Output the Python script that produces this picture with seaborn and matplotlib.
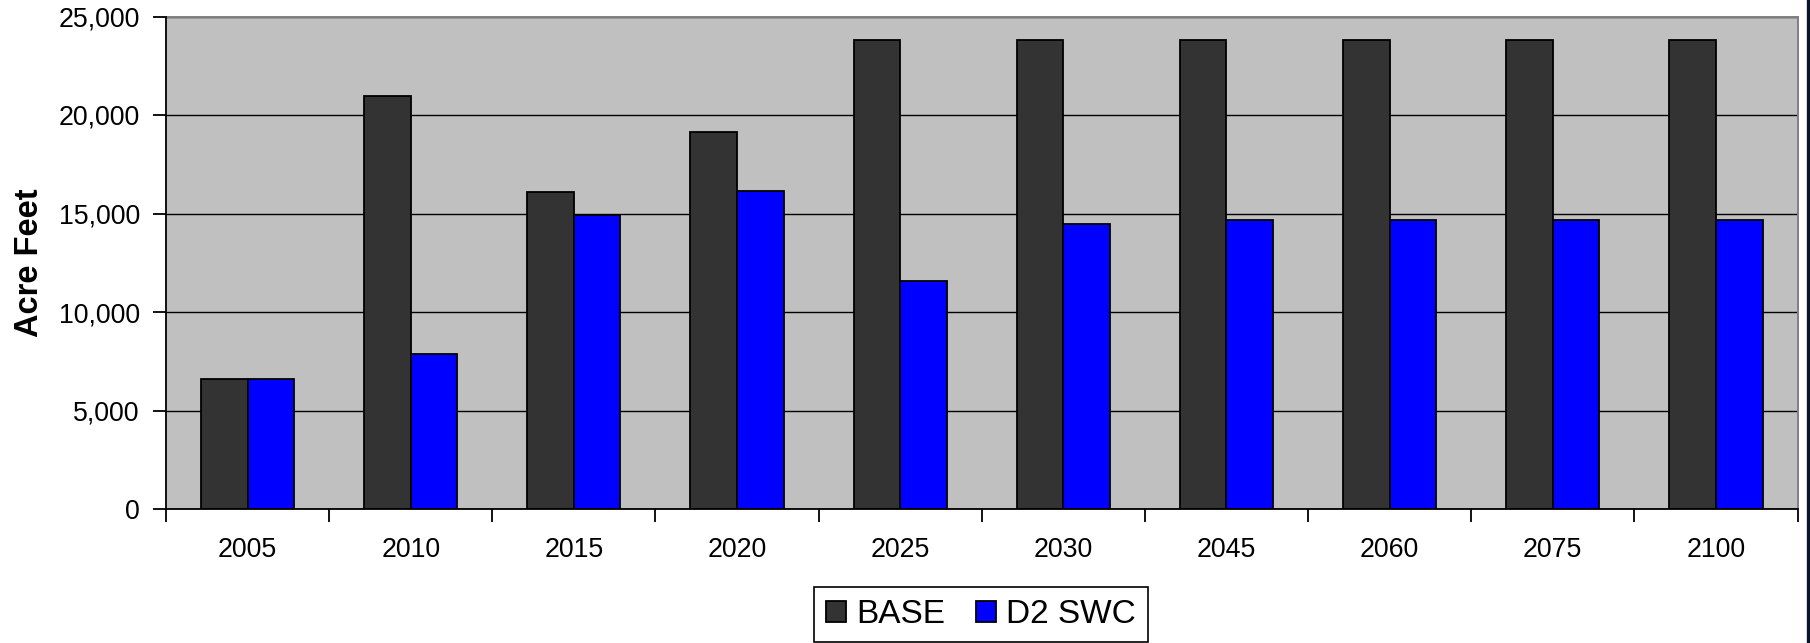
import matplotlib
matplotlib.use("Agg")
import matplotlib.pyplot as plt
from matplotlib.lines import Line2D
from matplotlib.ticker import FuncFormatter, FixedLocator
import numpy as np
import pandas as pd
import seaborn as sns

# Annual volumes (acre-feet) by planning year
years = ["2005", "2010", "2015", "2020", "2025", "2030", "2045", "2060", "2075", "2100"]
base = [6580, 20950, 16080, 19140, 23820, 23830, 23830, 23830, 23830, 23830]
d2_swc = [6580, 7870, 14900, 16160, 11590, 14450, 14670, 14670, 14670, 14670]
series_names = ["BASE", "D2 SWC"]
series_colors = ["#333333", "#0000FF"]

df = pd.DataFrame({
    "Year": years * 2,
    "Acre Feet": base + d2_swc,
    "Scenario": [series_names[0]] * len(years) + [series_names[1]] * len(years),
})

sns.set_theme(style="white")
plt.rcParams["font.family"] = ["Liberation Sans", "DejaVu Sans"]

W, H = 1810, 643
fig = plt.figure(figsize=(W / 100, H / 100), dpi=100)
ax_left, ax_right, ax_top, ax_bottom = 166, 1797.5, 16.5, 509
ax = fig.add_axes([ax_left / W, 1 - ax_bottom / H,
                   (ax_right - ax_left) / W, (ax_bottom - ax_top) / H])
ax.set_facecolor("#C0C0C0")

sns.barplot(data=df, x="Year", y="Acre Feet", hue="Scenario",
            order=years, hue_order=series_names,
            palette=series_colors, width=2 / 3.5, saturation=1,
            edgecolor="black", linewidth=1.3, ax=ax, zorder=3)

# y axis
ax.set_ylim(0, 25000)
ax.set_yticks(np.arange(0, 25001, 5000))
ax.yaxis.set_major_formatter(FuncFormatter(lambda v, p: f"{int(v):,}"))
ax.yaxis.grid(True, color="black", linewidth=1.0, zorder=1)
ax.set_axisbelow(True)
ax.tick_params(axis="y", which="major", direction="out", length=9.3, width=1.3,
               color="black", labelsize=19.3, pad=9.6, left=True)

# x axis: labels centred on groups, tick marks between groups
ax.set_xlim(-0.5, len(years) - 0.5)
ax.xaxis.set_minor_locator(FixedLocator(np.arange(-0.5, len(years), 1.0)))
ax.tick_params(axis="x", which="major", length=0, labelsize=19.3, pad=20)
ax.tick_params(axis="x", which="minor", direction="out", length=9, width=1.3,
               color="black", bottom=True)
ax.set_xlabel("")

ax.set_ylabel("Acre Feet", fontsize=23.5, fontweight="bold", color="black")
ax.yaxis.set_label_coords((45 - ax_left) / (ax_right - ax_left), 0.5)

for side in ("left", "bottom"):
    ax.spines[side].set_color("black")
    ax.spines[side].set_linewidth(1.3)
    ax.spines[side].set_zorder(5)
for side in ("top", "right"):
    ax.spines[side].set_color("#808080")
    ax.spines[side].set_linewidth(1.4)

for lbl in ax.get_xticklabels() + ax.get_yticklabels():
    lbl.set_color("black")

# legend below the plot
handles, labels = ax.get_legend_handles_labels()
ax.get_legend().remove()
for h in handles:
    h.set_edgecolor("black")
    h.set_linewidth(1.3)
leg = fig.legend(handles, labels, loc="center",
                 bbox_to_anchor=(981 / W, 1 - 614.5 / H),
                 bbox_transform=fig.transFigure, ncol=2, fontsize=24,
                 frameon=True, fancybox=False, framealpha=1, edgecolor="black",
                 borderpad=0.36, handlelength=0.6, handleheight=0.6,
                 handletextpad=0.32, columnspacing=0.9)
leg.get_frame().set_linewidth(1.2)
for t in leg.get_texts():
    t.set_color("black")

# dark rule along the right edge of the figure
fig.add_artist(Line2D([1807.5 / W, 1807.5 / W], [0, 1], transform=fig.transFigure,
                      color="#0a1428", linewidth=2.4))

fig.savefig("out.png", dpi=100, facecolor="white")
